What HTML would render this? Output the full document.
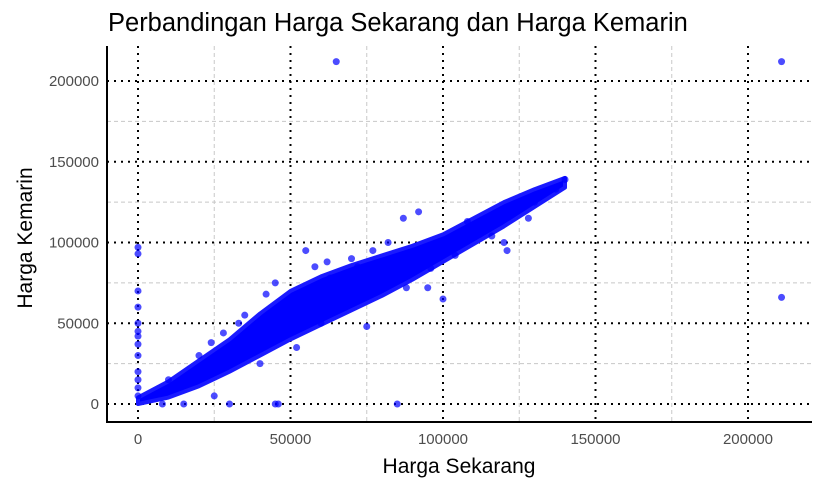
<!DOCTYPE html>
<html><head><meta charset="utf-8"><style>
html,body{margin:0;padding:0;background:#fff;width:823px;height:487px;overflow:hidden}
svg{display:block;font-family:"Liberation Sans",sans-serif}
</style></head><body>
<svg id="chart" width="823" height="487">
<text x="108" y="31" font-size="25.5" fill="#000">Perbandingan Harga Sekarang dan Harga Kemarin</text>
<text x="459" y="473" font-size="21" text-anchor="middle" fill="#000">Harga Sekarang</text>
<text transform="translate(32,238) rotate(-90)" font-size="21" text-anchor="middle" fill="#000">Harga Kemarin</text>
<g id="grid"></g><g id="marks"></g><g id="axes"></g>
</svg>
<script>
const xTicks=[0,50000,100000,150000,200000];
const yTicks=[0,50000,100000,150000,200000];
const bandX=[0,10000,20000,30000,40000,50000,60000,70000,80000,90000,100000,110000,120000,130000,140000];
const bandUpper=[4000,14000,27000,40000,56000,70000,79000,86000,92000,98000,105000,115000,125000,133000,140000];
const bandLower=[0,4000,11000,20000,30000,40000,49000,58000,67000,77000,88000,99000,110000,122000,134000];
const ptX=[65000,211000,211000,0,0,0,0,0,0,0,0,0,0,0,0,0,8000,15000,30000,45000,46000,85000,63000,72000,60000,75000,77000,95000,100000,120000,121000,130000,128000,87000,92000,99000,108000,40000,35000,20000,25000,10000,55000,52000,68000,82000,112000,137000,140000,15000,45000,42000,62000,58000,70000,33000,24000,28000,88000,96000,104000,116000];
const ptY=[212000,212000,66000,97000,93000,70000,60000,50000,45000,42000,37000,30000,20000,15000,10000,5000,0,0,0,0,0,0,78000,85000,50000,48000,95000,72000,65000,100000,95000,125000,115000,115000,119000,98000,113000,25000,55000,30000,5000,15000,95000,35000,60000,100000,105000,133000,139000,12000,75000,68000,88000,85000,90000,50000,38000,44000,72000,84000,92000,104000];
const NS="http://www.w3.org/2000/svg";
const L=107,R=812,T=46,B=422;
const sx=v=>138+v*(152.5/50000);
const sy=v=>404-v*(80.75/50000);
const g=document.getElementById('grid'),m=document.getElementById('marks'),a=document.getElementById('axes');
function mk(tag,at,p){const e=document.createElementNS(NS,tag);for(const k in at)e.setAttribute(k,at[k]);p.appendChild(e);return e;}
xTicks.forEach((t,i)=>{
 if(i<xTicks.length-1){const e=mk('line',{x1:sx(t+25000),x2:sx(t+25000),y1:T,y2:B,stroke:'#c8c8c8','stroke-dasharray':'4 3'},g);
 
 }
 const l=mk('line',{x1:sx(t),x2:sx(t),y1:T,y2:B,stroke:'#000','stroke-width':2,'stroke-dasharray':'2 5'},g);
 
 
 const tx=mk('text',{x:sx(t),y:444,'font-size':15,'text-anchor':'middle',fill:'#4d4d4d'},a);tx.textContent=t;
 
 
});
yTicks.forEach((t,i)=>{
 if(i<yTicks.length-1){const e=mk('line',{x1:L,x2:R,y1:sy(t+25000),y2:sy(t+25000),stroke:'#c8c8c8','stroke-dasharray':'4 3'},g);
 
 }
 const l=mk('line',{x1:L,x2:R,y1:sy(t),y2:sy(t),stroke:'#000','stroke-width':2,'stroke-dasharray':'2 5'},g);
 
 
 const tx=mk('text',{x:99,y:sy(t)+5,'font-size':15,'text-anchor':'end',fill:'#4d4d4d'},a);tx.textContent=t;
 
 
});
let d='';
bandX.forEach((x,i)=>{d+=(i?'L':'M')+sx(x)+','+sy(bandUpper[i]);});
for(let i=bandX.length-1;i>=0;i--)d+='L'+sx(bandX[i])+','+sy(bandLower[i]);
const band=mk('path',{d:d+'Z',fill:'#0000ff',stroke:'#1a1aff','stroke-width':4,'stroke-linejoin':'round'},m);


ptX.forEach((x,i)=>{const c=mk('circle',{cx:sx(x),cy:sy(ptY[i]),r:3.5,fill:'#0000ff','fill-opacity':0.7},m);
 
 });
const ax=mk('path',{d:`M${L},${T}V${B}H${R}`,fill:'none',stroke:'#000','stroke-width':2},a);


</script>
</body></html>
